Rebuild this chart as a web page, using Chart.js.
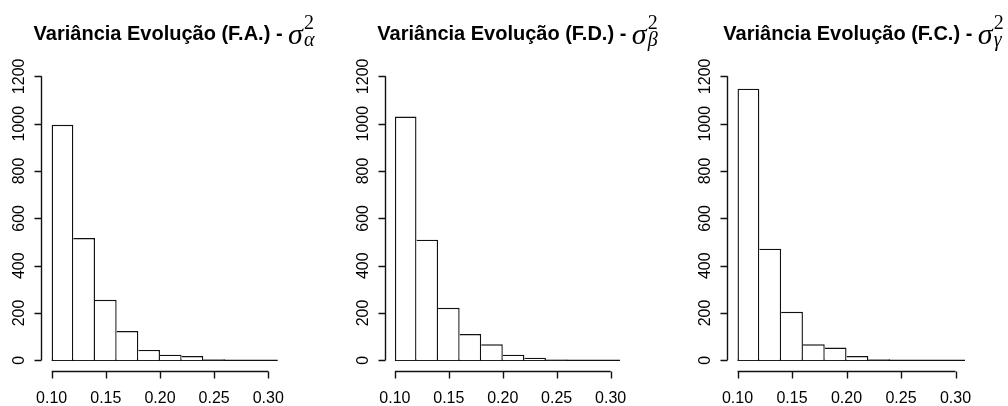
<!DOCTYPE html>
<html>
<head>
<meta charset="utf-8">
<script src="https://cdn.jsdelivr.net/npm/chart.js@4/dist/chart.umd.min.js"></script>
<style>
  html, body { margin: 0; padding: 0; background: #fff; }
  #wrap { position: relative; width: 1008px; height: 406px; overflow: hidden; }
  canvas { position: absolute; top: 0; }
</style>
</head>
<body>
<div id="wrap">
  <canvas id="histA" width="336" height="406" style="left:0px"></canvas>
  <canvas id="histB" width="336" height="406" style="left:336px"></canvas>
  <canvas id="histC" width="336" height="406" style="left:672px"></canvas>
</div>
<script>
// bins of width 0.02 starting at 0.10 (the last one runs past the plot edge)
const binStart = 0.10;
const binWidth = 0.02;
const countsA = [995, 517, 256, 124, 44, 24, 18, 5, 0, 0, 0];
const countsB = [1030, 510, 222, 111, 68, 24, 11, 4, 0, 0, 0];
const countsC = [1148, 472, 205, 68, 54, 18, 5, 0, 0, 0, 0];

const xTicks = [0.10, 0.15, 0.20, 0.25, 0.30];
const yTicks = [0, 200, 400, 600, 800, 1000, 1200];

const titleMain = "Variância Evolução";
const panels = [
  { id: "histA", counts: countsA, tag: "(F.A.)", sub: "α", pad: { left: 41.7, right: 58.3 }, titleCenter: 174 },
  { id: "histB", counts: countsB, tag: "(F.D.)", sub: "β", pad: { left: 49, right: 52 }, titleCenter: 181.5 },
  { id: "histC", counts: countsC, tag: "(F.C.)", sub: "γ", pad: { left: 55.5, right: 43 }, titleCenter: 191.5 },
];

const LW = 1.4;

// base-graphics style axes and title
const rAxes = {
  id: "rAxes",
  afterDraw(chart, args, opts) {
    const { ctx, chartArea } = chart;
    const xs = chart.scales.x;
    const ys = chart.scales.y;
    ctx.save();
    ctx.strokeStyle = "#111";
    ctx.fillStyle = "#000";
    ctx.lineWidth = LW;

    // y axis, from first to last tick
    const ax = Math.floor(chartArea.left) + 0.5;
    const y0 = ys.getPixelForValue(yTicks[0]);
    const y1 = ys.getPixelForValue(yTicks[yTicks.length - 1]);
    ctx.beginPath();
    ctx.moveTo(ax, y0);
    ctx.lineTo(ax, y1);
    yTicks.forEach(t => {
      const py = Math.round(ys.getPixelForValue(t)) + 0.5;
      ctx.moveTo(ax, py);
      ctx.lineTo(ax - 7, py);
    });
    ctx.stroke();
    ctx.font = "16px 'Liberation Sans', Arial, sans-serif";
    ctx.textAlign = "center";
    ctx.textBaseline = "alphabetic";
    yTicks.forEach(t => {
      const py = ys.getPixelForValue(t);
      ctx.save();
      ctx.translate(ax - 18, py);
      ctx.rotate(-Math.PI / 2);
      ctx.fillText(String(t), 0, 0);
      ctx.restore();
    });

    // x axis
    const ay = Math.floor(chartArea.bottom) + 0.5;
    const x0 = xs.getPixelForValue(xTicks[0]);
    const x1 = xs.getPixelForValue(xTicks[xTicks.length - 1]);
    ctx.beginPath();
    ctx.moveTo(x0, ay);
    ctx.lineTo(x1, ay);
    xTicks.forEach(t => {
      const px = Math.round(xs.getPixelForValue(t)) + 0.5;
      ctx.moveTo(px, ay);
      ctx.lineTo(px, ay + 7);
    });
    ctx.stroke();
    xTicks.forEach(t => {
      ctx.fillText(t.toFixed(2), xs.getPixelForValue(t), ay + 31.5);
    });

    // title: text followed by sigma^2 with a greek subscript
    const mainFont = "bold 20px 'Liberation Sans', Arial, sans-serif";
    const sigFont = "italic 30px 'Liberation Serif', serif";
    const supFont = "20px 'Liberation Serif', serif";
    const subFont = "italic 20px 'Liberation Serif', serif";
    const head = titleMain + " " + opts.tag + " - ";
    ctx.font = mainFont;
    const wHead = ctx.measureText(head).width;
    ctx.font = sigFont;
    const wSig = ctx.measureText("σ").width;
    ctx.font = supFont;
    const wSup = ctx.measureText("2").width;
    ctx.font = subFont;
    const wSub = ctx.measureText(opts.sub).width;
    const total = wHead + wSig + 1 + Math.max(wSup, wSub);
    let tx = opts.titleCenter - total / 2;
    ctx.textAlign = "left";
    ctx.font = mainFont;
    ctx.fillText(head, tx, 39.5);
    tx += wHead;
    ctx.font = sigFont;
    ctx.fillText("σ", tx, 43.5);
    tx += wSig + 1;
    ctx.font = supFont;
    ctx.fillText("2", tx, 29);
    ctx.font = subFont;
    ctx.fillText(opts.sub, tx, 46);
    ctx.restore();
  }
};

panels.forEach(p => {
  const bars = p.counts.map((c, i) => ({ x: binStart + binWidth * (i + 0.5), y: c }));
  const edges = p.counts.map((c, i) => binStart + binWidth * i);
  edges.push(binStart + binWidth * p.counts.length);
  const n = p.counts.length;

  new Chart(document.getElementById(p.id), {
    type: "bar",
    data: {
      datasets: [
        {
          data: bars,
          backgroundColor: "#ffffff",
          borderColor: "#111111",
          borderSkipped: false,
          inflateAmount: 0,
          // a shared edge is drawn once, by the taller neighbour;
          // the base comes from the line below
          borderWidth: ctx => {
            const i = ctx.dataIndex;
            const c = p.counts;
            return {
              top: LW,
              bottom: 0,
              left: i === 0 || c[i] > c[i - 1] ? LW : 0,
              right: i === n - 1 || c[i] >= c[i + 1] ? LW : 0,
            };
          },
          barPercentage: 1,
          categoryPercentage: 1,
          clip: 0,
        },
        {
          // base line of every bin, empty ones included
          type: "line",
          data: edges.map(e => ({ x: e, y: 0 })),
          borderColor: "#111111",
          borderWidth: LW,
          pointRadius: 0,
          clip: 0,
        },
      ],
    },
    options: {
      responsive: false,
      animation: false,
      events: [],
      layout: {
        padding: { left: p.pad.left, right: p.pad.right, top: 65, bottom: 34.3 },
      },
      plugins: {
        title: { display: false },
        legend: { display: false },
        tooltip: { enabled: false },
        rAxes: { tag: p.tag, sub: p.sub, titleCenter: p.titleCenter },
      },
      scales: {
        x: {
          type: "linear",
          display: false,
          offset: false,
          min: 0.0908,
          max: 0.3087,
        },
        y: {
          display: false,
          min: -48,
          max: 1248,
        },
      },
    },
    plugins: [rAxes],
  });
});
</script>
</body>
</html>
